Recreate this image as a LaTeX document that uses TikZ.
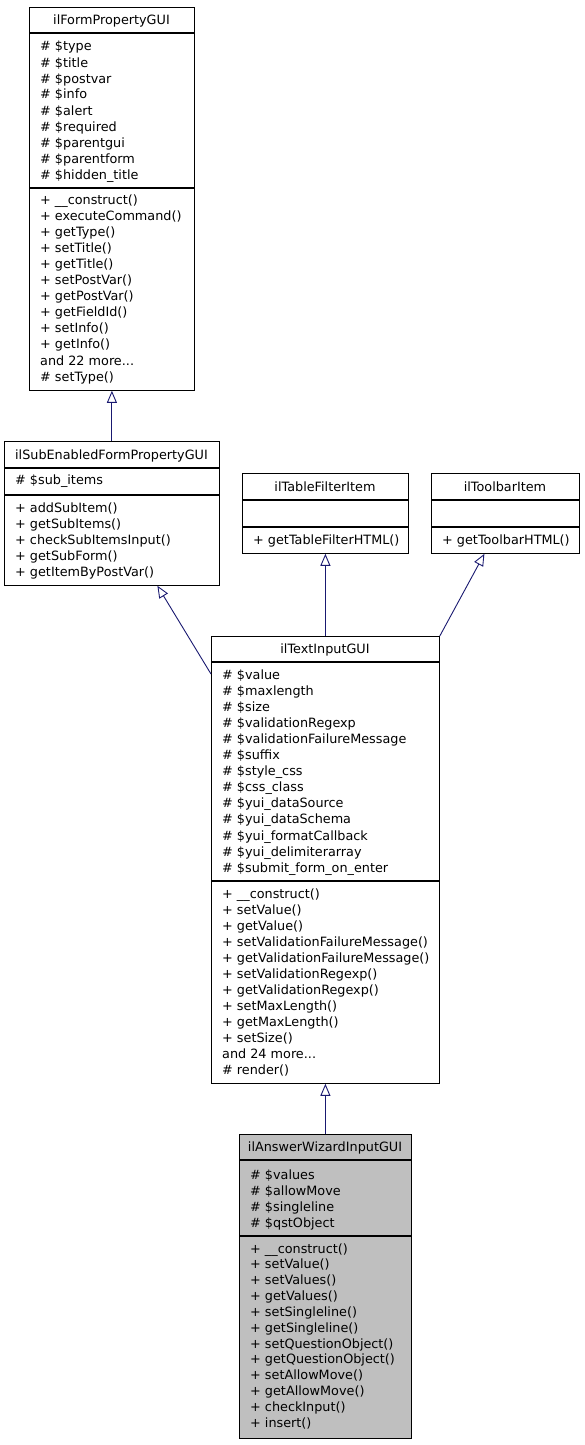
\documentclass[tikz,border=0pt]{standalone}
\usepackage{fontspec}
\setmainfont{DejaVu Sans}
\usetikzlibrary{arrows.meta}
\definecolor{edgeblue}{RGB}{25,25,112}
\definecolor{boxgray}{RGB}{191,191,191}
\newcommand{\moredots}{...}
\tikzset{
  classbox/.style={draw=black, line width=0.8pt, inner sep=0pt, anchor=north west},
  sepline/.style={draw=black, line width=1.4pt},
  member/.style={anchor=base west, inner sep=0pt, font=\fontsize{12.8}{16}\selectfont},
  classname/.style={anchor=base, inner sep=0pt, font=\fontsize{12.8}{16}\selectfont},
  inherit/.style={draw=edgeblue, line width=0.9pt, -{Triangle[open,length=12pt,width=10pt]}}
}

\begin{document}
\begin{tikzpicture}[x=1pt,y=-1pt]
  \useasboundingbox (0,0) rectangle (584,1445);
  % ilFormPropertyGUI
  \node[classbox, minimum width=165pt, minimum height=383pt] (fp) at (29,7) {};
  \draw[sepline] (29,33) -- (194,33);
  \draw[sepline] (29,188) -- (194,188);
  \node[classname] (fpname) at (111.5,25) {ilFormPropertyGUI};
  \foreach \t [count=\i from 0] in {\# \$type, \# \$title, \# \$postvar, \# \$info, \# \$alert, \# \$required, \# \$parentgui, \# \$parentform, \# \$hidden\_title}
    \node[member] (fpattr\i) at (40,51+16*\i) {\t};
  \foreach \t [count=\i from 0] in {+ \_\_construct(), + executeCommand(), + getType(), + setTitle(), + getTitle(), + setPostVar(), + getPostVar(), + getFieldId(), + setInfo(), + getInfo(), and 22 more\moredots, \# setType()}
    \node[member] (fpmeth\i) at (40,204+16.1*\i) {\t};

  % ilSubEnabledFormPropertyGUI
  \node[classbox, minimum width=215pt, minimum height=144pt] (se) at (4,441) {};
  \draw[sepline] (4,468) -- (219,468);
  \draw[sepline] (4,495) -- (219,495);
  \node[classname] (sename) at (111.5,459) {ilSubEnabledFormPropertyGUI};
  \node[member] (seattr0) at (15,484) {\# \$sub\_items};
  \foreach \t [count=\i from 0] in {+ addSubItem(), + getSubItems(), + checkSubItemsInput(), + getSubForm(), + getItemByPostVar()}
    \node[member] (semeth\i) at (15,512+16*\i) {\t};

  % ilTableFilterItem
  \node[classbox, minimum width=166pt, minimum height=80pt] (tf) at (242,473) {};
  \draw[sepline] (242,500) -- (408,500);
  \draw[sepline] (242,527) -- (408,527);
  \node[classname] (tfname) at (325,491) {ilTableFilterItem};
  \node[member] (tfmeth0) at (253,544) {+ getTableFilterHTML()};

  % ilToolbarItem
  \node[classbox, minimum width=148pt, minimum height=80pt] (tb) at (431,473) {};
  \draw[sepline] (431,500) -- (579,500);
  \draw[sepline] (431,527) -- (579,527);
  \node[classname] (tbname) at (505,491) {ilToolbarItem};
  \node[member] (tbmeth0) at (442,544) {+ getToolbarHTML()};

  % ilTextInputGUI
  \node[classbox, minimum width=228pt, minimum height=447pt] (ti) at (211,636) {};
  \draw[sepline] (211,662) -- (439,662);
  \draw[sepline] (211,881) -- (439,881);
  \node[classname] (tiname) at (325,653) {ilTextInputGUI};
  \foreach \t [count=\i from 0] in {\# \$value, \# \$maxlength, \# \$size, \# \$validationRegexp, \# \$validationFailureMessage, \# \$suffix, \# \$style\_css, \# \$css\_class, \# \$yui\_dataSource, \# \$yui\_dataSchema, \# \$yui\_formatCallback, \# \$yui\_delimiterarray, \# \$submit\_form\_on\_enter}
    \node[member] (tiattr\i) at (222,679+16.1*\i) {\t};
  \foreach \t [count=\i from 0] in {+ \_\_construct(), + setValue(), + getValue(), + setValidationFailureMessage(), + getValidationFailureMessage(), + setValidationRegexp(), + getValidationRegexp(), + setMaxLength(), + getMaxLength(), + setSize(), and 24 more\moredots, \# render()}
    \node[member] (timeth\i) at (222,898+16*\i) {\t};

  % ilAnswerWizardInputGUI
  \node[classbox, fill=boxgray, minimum width=172pt, minimum height=304pt] (aw) at (239,1134) {};
  \draw[sepline] (239,1160) -- (411,1160);
  \draw[sepline] (239,1236) -- (411,1236);
  \node[classname] (awname) at (325,1151) {ilAnswerWizardInputGUI};
  \foreach \t [count=\i from 0] in {\# \$values, \# \$allowMove, \# \$singleline, \# \$qstObject}
    \node[member] (awattr\i) at (250,1179+16*\i) {\t};
  \foreach \t [count=\i from 0] in {+ \_\_construct(), + setValue(), + setValues(), + getValues(), + setSingleline(), + getSingleline(), + setQuestionObject(), + getQuestionObject(), + setAllowMove(), + getAllowMove(), + checkInput(), + insert()}
    \node[member] (awmeth\i) at (250,1253+15.85*\i) {\t};

  % inheritance
  \coordinate (tiin) at ([yshift=-38pt]ti.north west);
  \coordinate (setip) at ([xshift=45.5pt]se.south);
  \coordinate (tbtip) at ([xshift=-21pt]tb.south);
  \draw[inherit] (se.north) -- (fp.south);
  \draw[inherit] (tiin) -- (setip);
  \draw[inherit] (ti.north) -- (tf.south);
  \draw[inherit] (ti.north east) -- (tbtip);
  \draw[inherit] (aw.north) -- (ti.south);
\end{tikzpicture}
\end{document}
